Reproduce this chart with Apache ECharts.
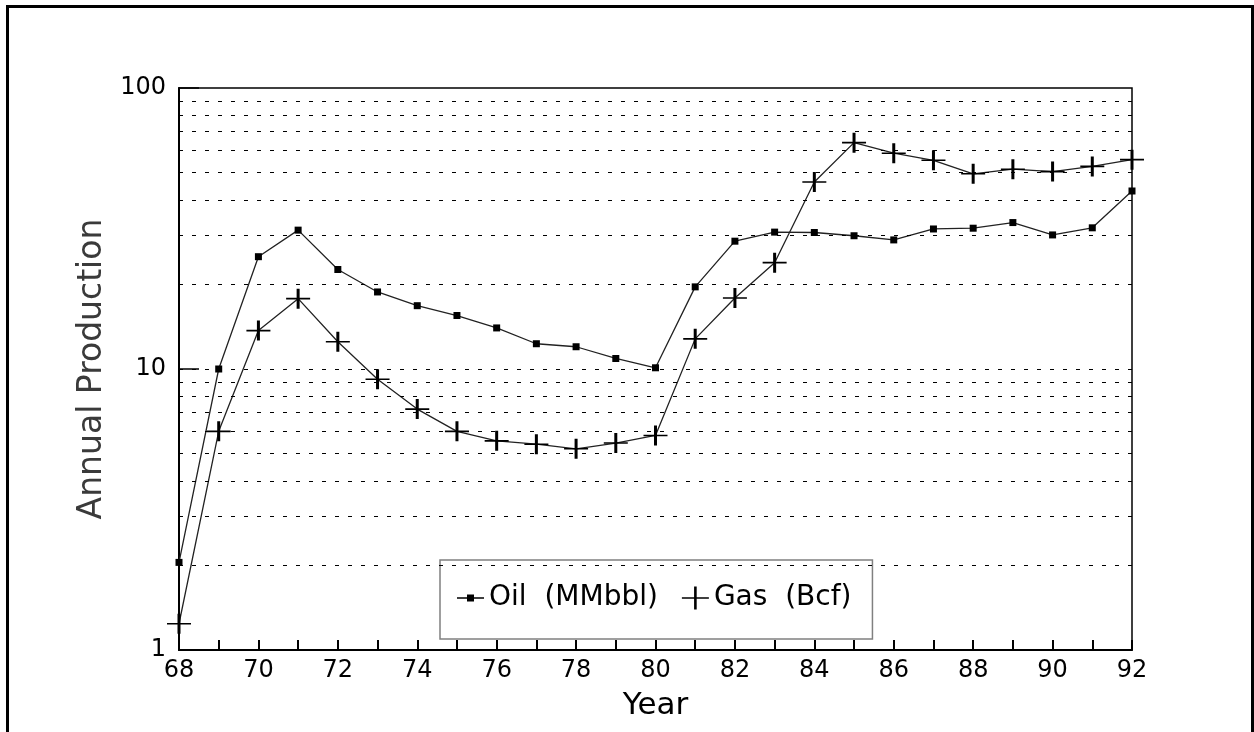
<!DOCTYPE html>
<html>
<head>
<meta charset="utf-8">
<script src="https://cdn.jsdelivr.net/npm/echarts@6/dist/echarts.min.js"></script>
<style>
html,body{margin:0;padding:0;background:#fff;}
#chart{width:1254px;height:732px;}
</style>
</head>
<body>
<div id="chart"></div>
<script>
const years = [68,69,70,71,72,73,74,75,76,77,78,79,80,81,82,83,84,85,86,87,88,89,90,91,92];
const oilValues = [2.05,10,25.1,31.2,22.6,18.8,16.8,15.5,14.0,12.3,12.0,10.9,10.1,19.6,28.5,30.7,30.6,29.8,28.8,31.5,31.7,33.2,30.0,31.8,43.0];
const gasValues = [1.24,6.0,13.7,17.8,12.5,9.2,7.2,6.0,5.55,5.4,5.2,5.45,5.8,12.8,17.9,23.9,46.3,63.9,58.6,55.3,49.5,51.4,50.4,52.6,55.6];
const gridValues = [2,3,4,5,6,7,8,9,10,20,30,40,50,60,70,80,90];
const seriesNames = ['Oil  (MMbbl)', 'Gas  (Bcf)'];
const xAxisTitle = 'Year';
const yAxisTitle = 'Annual Production';

const FONT = 'DejaVu Sans';
const plusPath = 'path://M-1.5,-10 L1.5,-10 L1.5,10 L-1.5,10 Z M-12,-0.8 L12,-0.8 L12,0.8 L-12,0.8 Z';
const oilLegendIcon = 'path://M0,2.75 L27,2.75 L27,4.25 L0,4.25 Z M10,0 L17,0 L17,7 L10,7 Z';
const gasLegendIcon = 'path://M12.2,0 L14.8,0 L14.8,23 L12.2,23 Z M0,10.75 L27,10.75 L27,12.25 L0,12.25 Z';

const chart = echarts.init(document.getElementById('chart'), null, {renderer: 'canvas'});
chart.setOption({
  backgroundColor: '#fff',
  animation: false,
  graphic: [{
    type: 'rect', z: 100,
    shape: {x: 7.5, y: 6.5, width: 1245, height: 800},
    style: {fill: 'none', stroke: '#000', lineWidth: 3}
  }],
  grid: {left: 179, right: 122, top: 88, bottom: 82, show: true, borderColor: '#000', borderWidth: 1.5, backgroundColor: 'transparent'},
  legend: {
    left: 440, top: 560,
    orient: 'horizontal',
    backgroundColor: '#fff',
    borderColor: '#808080', borderWidth: 1.5, borderRadius: 0,
    padding: [24, 21, 27, 17],
    itemGap: 24,
    itemWidth: 27, itemHeight: 23,
    textStyle: {fontFamily: FONT, fontSize: 28, color: '#000'},
    data: [
      {name: seriesNames[0], icon: oilLegendIcon},
      {name: seriesNames[1], icon: gasLegendIcon}
    ]
  },
  xAxis: {
    type: 'value', min: 68, max: 92, interval: 1,
    name: xAxisTitle, nameLocation: 'middle', nameGap: 40,
    nameTextStyle: {fontFamily: FONT, fontSize: 31, color: '#000'},
    axisLine: {show: true, lineStyle: {color: '#000', width: 2}},
    axisTick: {show: true, inside: true, length: 10, lineStyle: {color: '#000', width: 2}},
    axisLabel: {fontFamily: FONT, fontSize: 24, color: '#000', margin: 9,
      formatter: v => (v % 2 === 0 ? String(v) : '')},
    splitLine: {show: false}
  },
  yAxis: {
    type: 'log', logBase: 10, min: 1, max: 100,
    name: yAxisTitle, nameLocation: 'middle', nameGap: 62,
    nameTextStyle: {fontFamily: FONT, fontSize: 33, color: '#3a3a3a'},
    axisLine: {show: true, lineStyle: {color: '#000', width: 2}},
    axisTick: {show: true, inside: true, length: 20, lineStyle: {color: '#000', width: 1.5}},
    axisLabel: {fontFamily: FONT, fontSize: 24, color: '#000', margin: 13},
    splitLine: {show: false}
  },
  series: [
    {
      name: seriesNames[0], type: 'line',
      data: years.map((y, i) => [y, oilValues[i]]),
      symbol: 'rect', symbolSize: 7,
      itemStyle: {color: '#000'},
      lineStyle: {color: '#222', width: 1.3},
      z: 3,
      markLine: {
        silent: true, symbol: ['none', 'none'], label: {show: false},
        lineStyle: {color: '#000', width: 1, type: [4, 9]},
        data: gridValues.map(v => ({yAxis: v}))
      }
    },
    {
      name: seriesNames[1], type: 'line',
      data: years.map((y, i) => [y, gasValues[i]]),
      symbol: plusPath, symbolSize: [24, 20],
      itemStyle: {color: '#000'},
      lineStyle: {color: '#222', width: 1.3},
      z: 4
    }
  ]
});
</script>
</body>
</html>
